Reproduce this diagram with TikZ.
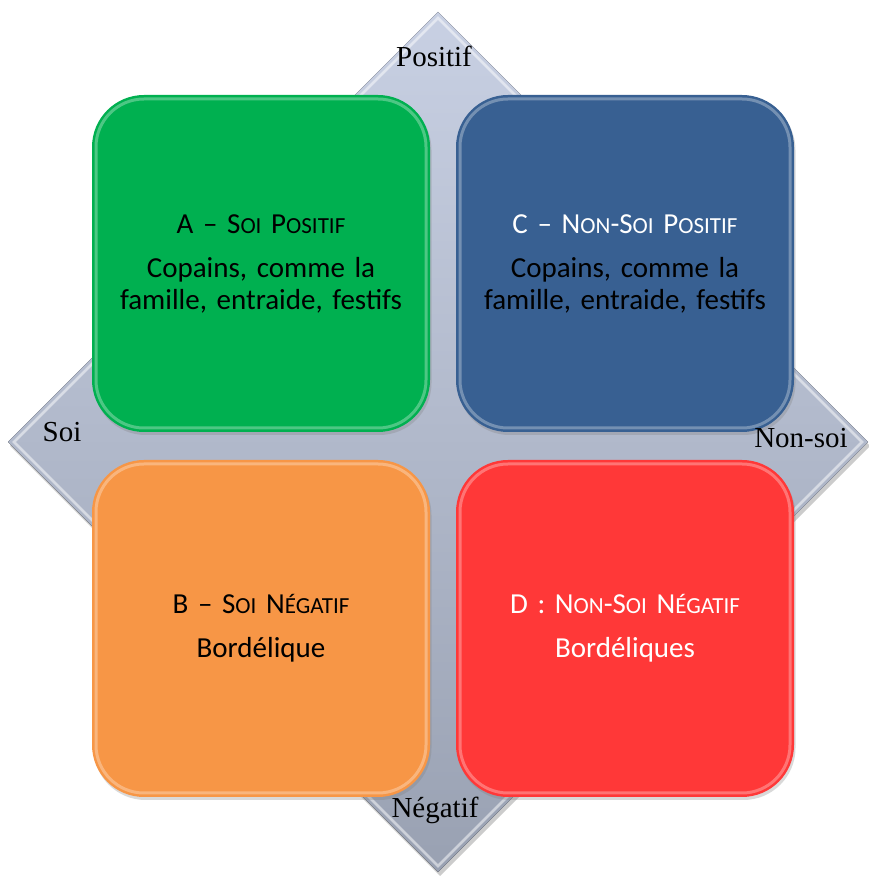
\documentclass[tikz,border=0pt]{standalone}
\usepackage{fontspec}
\setmainfont{Liberation Serif}
\newfontfamily\calibri{Carlito}
\usetikzlibrary{positioning,calc,shadows}
\definecolor{QuadGreen}{HTML}{00B050}
\definecolor{QuadBlue}{HTML}{386092}
\definecolor{QuadOrange}{HTML}{F79646}
\definecolor{QuadRed}{HTML}{FF3838}
\definecolor{AxisTop}{HTML}{C8D0E3}
\definecolor{AxisBottom}{HTML}{99A1B2}
% fake small capitals for the quadrant titles
\newcommand{\pc}[1]{{\fontsize{23}{32}\selectfont #1}}

\begin{document}
\begin{tikzpicture}[
  x=1pt,y=1pt,
  quad/.style={rounded corners=52pt,minimum width=338pt,minimum height=337pt,
    outer sep=0pt,inner sep=0pt,align=center,text width=320pt,
    font=\calibri\fontsize{29}{32}\selectfont,
    drop shadow={opacity=0.3,shadow xshift=1.5pt,shadow yshift=-3pt}},
  gloss/.style={white,opacity=0.3,line width=3pt,rounded corners=48pt},
  axis/.style={font=\fontsize{29}{32}\selectfont,anchor=base}
]
\useasboundingbox (0,0) rectangle (868,876);

% axis diamond behind the quadrants
\coordinate (top) at (438,864);
\coordinate (right) at (868,434);
\coordinate (bottom) at (438,4);
\coordinate (left) at (8,434);
\fill[black,opacity=0.2,transform canvas={shift={(2pt,-4pt)}}]
  (top) -- (right) -- (bottom) -- (left) -- cycle;
\fill[top color=AxisTop,bottom color=AxisBottom]
  (top) -- (right) -- (bottom) -- (left) -- cycle;
\draw[white,opacity=0.5,line width=2.5pt]
  ($(top)+(0,-6)$) -- ($(right)+(-6,0)$) -- ($(bottom)+(0,6)$)
  -- ($(left)+(6,0)$) -- cycle;

% the four quadrants
\node[quad,fill=QuadGreen] (soipos) at (261,612.5)
  {A – S\pc{OI} P\pc{OSITIF}\\[12pt]Copains, comme la\\famille, entraide, festifs};
\node[quad,fill=QuadBlue,right=26pt of soipos] (nonsoipos)
  {\textcolor{white}{C – N\pc{ON}-S\pc{OI} P\pc{OSITIF}}\\[12pt]Copains, comme la\\famille, entraide, festifs};
\node[quad,fill=QuadOrange,below=28pt of soipos] (soineg)
  {B – S\pc{OI} N\pc{ÉGATIF}\\[12pt]Bordélique};
\node[quad,fill=QuadRed,text=white,below=28pt of nonsoipos] (nonsoineg)
  {D : N\pc{ON}-S\pc{OI} N\pc{ÉGATIF}\\[12pt]Bordéliques};

\foreach \q in {soipos,nonsoipos,soineg,nonsoineg}
  \draw[gloss] ($(\q.north west)+(4,-4)$) rectangle ($(\q.south east)+(-4,4)$);

% axis labels
\node[axis] (lpos) at (434,809) {Positif};
\node[axis] (lsoi) at (62,434) {Soi};
\node[axis] (lnonsoi) at (801,428) {Non-soi};
\node[axis] (lneg) at (435,58) {Négatif};
\end{tikzpicture}
\end{document}
